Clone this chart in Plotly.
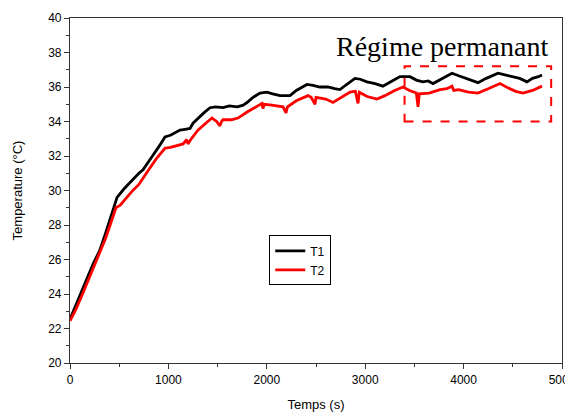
import plotly.graph_objects as go

t1_time = [0, 60, 120, 180, 240, 300, 360, 420, 478, 550, 630, 700, 742, 793, 850, 910, 965,
           1020, 1067, 1118, 1170, 1220, 1250, 1300, 1360, 1423, 1480, 1555, 1620, 1700, 1760,
           1799, 1860, 1931, 2000, 2060, 2134, 2236, 2300, 2408, 2470, 2540, 2620, 2690, 2744,
           2800, 2896, 2950, 3018, 3100, 3180, 3260, 3354, 3455, 3520, 3587, 3640, 3689, 3780,
           3882, 3950, 4030, 4100, 4146, 4230, 4300, 4350, 4420, 4500, 4570, 4644, 4700, 4760, 4797]
t1_vals = [22.55, 23.4, 24.2, 25.0, 25.8, 26.5, 27.5, 28.6, 29.6, 30.1, 30.6, 31.0, 31.2, 31.65,
           32.1, 32.6, 33.1, 33.2, 33.35, 33.5, 33.55, 33.6, 33.9, 34.2, 34.5, 34.8, 34.85, 34.8,
           34.9, 34.85, 34.95, 35.1, 35.4, 35.65, 35.7, 35.6, 35.5, 35.5, 35.8, 36.15, 36.1, 36.0,
           36.0, 35.9, 35.85, 36.1, 36.5, 36.45, 36.3, 36.2, 36.05, 36.3, 36.6, 36.6, 36.4, 36.3,
           36.35, 36.2, 36.5, 36.8, 36.65, 36.5, 36.35, 36.25, 36.5, 36.65, 36.8, 36.7, 36.6, 36.5,
           36.3, 36.5, 36.6, 36.7]

t2_time = [0, 60, 120, 180, 240, 300, 360, 420, 467, 510, 560, 630, 700, 732, 800, 884, 940, 965,
           1020, 1098, 1150, 1185, 1199, 1220, 1300, 1380, 1443, 1490, 1524, 1540, 1555, 1640,
           1707, 1800, 1900, 1951, 1960, 1975, 2050, 2120, 2165, 2195, 2210, 2300, 2419, 2450,
           2490, 2500, 2600, 2673, 2760, 2846, 2900, 2927, 2940, 3020, 3120, 3200, 3300, 3384,
           3450, 3520, 3537, 3550, 3650, 3760, 3830, 3882, 3900, 3950, 4050, 4146, 4250, 4370,
           4450, 4530, 4604, 4700, 4797]
t2_vals = [22.45, 23.1, 23.9, 24.7, 25.6, 26.4, 27.2, 28.2, 29.0, 29.15, 29.5, 29.95, 30.35, 30.6,
           31.2, 31.9, 32.3, 32.45, 32.5, 32.6, 32.7, 32.95, 32.7, 32.9, 33.5, 33.9, 34.2, 34.0,
           33.75, 34.0, 34.1, 34.1, 34.2, 34.55, 34.9, 35.05, 34.75, 35.0, 34.95, 34.9, 34.85, 34.5,
           34.85, 35.2, 35.5, 35.4, 35.0, 35.4, 35.3, 35.1, 35.4, 35.7, 35.75, 35.05, 35.7, 35.45,
           35.3, 35.5, 35.8, 36.0, 35.8, 35.65, 34.85, 35.6, 35.65, 35.85, 35.9, 36.05, 35.8, 35.85,
           35.7, 35.65, 35.9, 36.2, 35.95, 35.75, 35.65, 35.8, 36.05]

series_names = ["T1", "T2"]
series_colors = ["black", "red"]

x_ticks = [0, 1000, 2000, 3000, 4000, 5000]
y_ticks = [20, 22, 24, 26, 28, 30, 32, 34, 36, 38, 40]

box_x = [3400, 4890]
box_y = [34.0, 37.2]

fig = go.Figure()
for xs, ys, name, col in [(t1_time, t1_vals, series_names[0], series_colors[0]),
                          (t2_time, t2_vals, series_names[1], series_colors[1])]:
    fig.add_trace(go.Scatter(x=xs, y=ys, mode="lines", name=name,
                             line=dict(color=col, width=2.8)))

fig.add_shape(type="rect", x0=box_x[0], x1=box_x[1], y0=box_y[0], y1=box_y[1],
              xref="x", yref="y", line=dict(color="red", width=2, dash="dash"))

fig.add_annotation(x=3780, y=38.35, xref="x", yref="y", text="Régime permanant",
                   showarrow=False, font=dict(family="Liberation Serif", size=28, color="black"))

axis_common = dict(showline=True, linecolor="#333", linewidth=1.2, mirror=True,
                   ticks="outside", ticklen=5, tickcolor="#333", showgrid=False, zeroline=False,
                   automargin=False,
                   tickfont=dict(family="Liberation Sans", size=12, color="black"))

fig.update_xaxes(range=[0, 5000], tickvals=x_ticks,
                 title=dict(text="Temps (s)", font=dict(family="Liberation Sans", size=13, color="black"), standoff=14),
                 minor=dict(ticks="outside", ticklen=3, dtick=500, tickcolor="#333"),
                 **axis_common)
fig.update_yaxes(range=[20, 40], tickvals=y_ticks,
                 title=dict(text="Temperature (°C)", font=dict(family="Liberation Sans", size=13, color="black"), standoff=22),
                 minor=dict(ticks="outside", ticklen=3, dtick=1, tickcolor="#333"),
                 **axis_common)

fig.update_layout(
    width=573, height=412,
    margin=dict(l=62, r=19, t=10, b=57),
    paper_bgcolor="white", plot_bgcolor="white",
    font=dict(family="Liberation Sans", color="black"),
    legend=dict(x=0.405, y=0.37, xanchor="left", yanchor="top",
                bordercolor="black", borderwidth=1, bgcolor="white",
                font=dict(family="Liberation Sans", size=12, color="black"),
                tracegroupgap=0, itemwidth=30),
    showlegend=True,
)

fig.write_html("out.html")
